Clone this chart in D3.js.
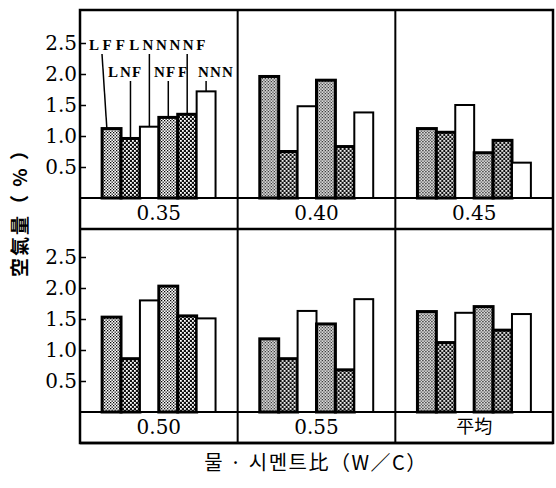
<!DOCTYPE html>
<html>
<head>
<meta charset="utf-8">
<script src="https://cdn.jsdelivr.net/npm/d3@7/dist/d3.min.js"></script>
<style>
  html, body { margin: 0; padding: 0; background: #fff; }
  svg { display: block; }
</style>
</head>
<body>
<script>
// Water-cement ratio groups (last panel is the average)
const wcRatios = ["0.35", "0.40", "0.45", "0.50", "0.55", "平均"];
// Mix series
const series = ["LFF", "LNF", "LNN", "NFF", "NNF", "NNN"];
// Air content (%) per series, one value per W/C panel
const LFF = [1.12, 1.96, 1.12, 1.53, 1.18, 1.62];
const LNF = [0.96, 0.75, 1.06, 0.86, 0.86, 1.12];
const LNN = [1.15, 1.48, 1.50, 1.80, 1.63, 1.60];
const NFF = [1.30, 1.90, 0.73, 2.03, 1.42, 1.70];
const NNF = [1.35, 0.83, 0.93, 1.55, 0.68, 1.32];
const NNN = [1.72, 1.38, 0.57, 1.51, 1.82, 1.58];
const yTicks = [0.5, 1.0, 1.5, 2.0, 2.5];
const yTitle = "空氣量（ % ）";
const xTitle = "물 · 시멘트比（W／C）";

const valuesBySeries = { LFF, LNF, LNN, NFF, NNF, NNN };
const fillOf = { LFF: "url(#light)", NFF: "url(#light)", LNF: "url(#dark)", NNF: "url(#dark)", LNN: "#fff", NNN: "#fff" };

const W = 556, H = 488;
const frameL = 80, frameR = 553;
const rows = [
  { top: 10, base: 198, strip: 229 },
  { top: 229, base: 412, strip: 443 }
];

const svg = d3.select("body").append("svg").attr("width", W).attr("height", H);

// fill patterns for the hatched bars
const defs = svg.append("defs");
const light = defs.append("pattern").attr("id", "light")
  .attr("width", 3).attr("height", 3).attr("patternUnits", "userSpaceOnUse");
light.append("rect").attr("width", 3).attr("height", 3).attr("fill", "#fff");
light.append("rect").attr("x", 0).attr("y", 0).attr("width", 1.3).attr("height", 1.3).attr("fill", "#000");
light.append("rect").attr("x", 1.5).attr("y", 1.5).attr("width", 1.3).attr("height", 1.3).attr("fill", "#000");

const dark = defs.append("pattern").attr("id", "dark")
  .attr("width", 4).attr("height", 4).attr("patternUnits", "userSpaceOnUse");
dark.append("rect").attr("width", 4).attr("height", 4).attr("fill", "#111");
dark.append("rect").attr("x", 0).attr("y", 0).attr("width", 1.8).attr("height", 1.8).attr("fill", "#fff");
dark.append("rect").attr("x", 2).attr("y", 2).attr("width", 1.8).attr("height", 1.8).attr("fill", "#fff");

const col = d3.scaleBand().domain([0, 1, 2]).range([frameL, frameR]);
const inner = d3.scaleBand().domain(series).range([0, col.bandwidth()]).paddingInner(0).paddingOuter(1.17);
const yScales = rows.map(r => d3.scaleLinear().domain([0, 2.5]).range([r.base, r.base - 155]));

const serif = "'DejaVu Serif', 'Liberation Serif', serif";
const cjk = "'Noto Sans CJK KR', 'Noto Sans CJK SC', sans-serif";

// bars
wcRatios.forEach((wc, i) => {
  const r = Math.floor(i / 3), c = i % 3;
  const y = yScales[r];
  const g = svg.append("g").attr("transform", `translate(${col(c)},0)`);
  const data = series.map(s => ({ s, v: valuesBySeries[s][i] }));
  g.selectAll("rect.bar").data(data).join("rect")
    .attr("class", "bar")
    .attr("x", d => inner(d.s))
    .attr("width", inner.bandwidth())
    .attr("y", d => y(d.v))
    .attr("height", d => y(0) - y(d.v))
    .attr("fill", d => fillOf[d.s])
    .attr("stroke", "#000")
    .attr("stroke-width", d => fillOf[d.s] === "#fff" ? 2 : 3);

  // strip label under the panel
  g.append("text")
    .attr("x", col.bandwidth() / 2)
    .attr("y", (rows[r].base + rows[r].strip) / 2 + 1)
    .attr("text-anchor", "middle")
    .attr("dominant-baseline", "middle")
    .attr("font-family", wc === "平均" ? cjk : serif)
    .attr("font-size", wc === "平均" ? 18 : 20)
    .text(wc);
});

// frame and grid lines
const grid = svg.append("g").attr("stroke", "#000").attr("fill", "none");
grid.append("rect").attr("x", frameL).attr("y", rows[0].top)
  .attr("width", frameR - frameL).attr("height", rows[1].strip - rows[0].top)
  .attr("stroke-width", 2.5);
[1, 2].forEach(c => grid.append("line")
  .attr("x1", col(c)).attr("x2", col(c))
  .attr("y1", rows[0].top).attr("y2", rows[1].strip).attr("stroke-width", 2));
rows.forEach(r => {
  grid.append("line").attr("x1", frameL).attr("x2", frameR)
    .attr("y1", r.base).attr("y2", r.base).attr("stroke-width", 2);
  grid.append("line").attr("x1", frameL).attr("x2", frameR)
    .attr("y1", r.strip).attr("y2", r.strip).attr("stroke-width", 2.5);
});

// y axes, ticks pointing into the panel
rows.forEach((r, k) => {
  const ax = svg.append("g").attr("transform", `translate(${frameL},0)`)
    .call(d3.axisLeft(yScales[k]).tickValues(yTicks).tickFormat(d3.format(".1f"))
      .tickSize(-6).tickPadding(3));
  ax.select(".domain").remove();
  ax.selectAll(".tick line").attr("stroke", "#000").attr("stroke-width", 1.5);
  ax.selectAll(".tick text")
    .attr("font-family", serif).attr("font-size", 20).attr("fill", "#000");
});

// series labels with leader lines in the first panel
const pitchTop = 13.4, pitchLow = 12;
const labelPos = {
  LFF: { x: 89, y: 50, pitch: pitchTop, lx: 102, ly: 54 },
  LNN: { x: 89 + 3 * pitchTop, y: 50, pitch: pitchTop, ly: 54 },
  NNF: { x: 89 + 6 * pitchTop, y: 50, pitch: pitchTop, ly: 54 },
  LNF: { x: 108, y: 77, pitch: pitchLow, ly: 81 },
  NFF: { x: 154, y: 77, pitch: pitchLow, ly: 81 },
  NNN: { x: 198, y: 77, pitch: pitchLow, ly: 81 }
};
const y0 = yScales[0], x0 = col(0);
series.forEach(s => {
  const p = labelPos[s];
  svg.append("text")
    .attr("x", s.split("").map((ch, j) => p.x + j * p.pitch).join(" "))
    .attr("y", p.y)
    .attr("font-family", "'Liberation Serif', serif")
    .attr("font-weight", "bold")
    .attr("font-size", 15)
    .text(s);
  const bx = x0 + inner(s) + inner.bandwidth() / 2;
  const endX = p.lx !== undefined ? x0 + inner(s) + inner.bandwidth() * 0.25 : bx;
  svg.append("line")
    .attr("x1", p.lx !== undefined ? p.lx : bx).attr("y1", p.ly)
    .attr("x2", endX).attr("y2", y0(valuesBySeries[s][0]))
    .attr("stroke", "#000").attr("stroke-width", 1.5);
});

// axis titles
svg.append("text")
  .attr("transform", "translate(22,208) rotate(-90)")
  .attr("text-anchor", "middle")
  .attr("dominant-baseline", "middle")
  .attr("font-family", cjk)
  .attr("font-weight", "bold")
  .attr("font-size", 19)
  .attr("letter-spacing", 2)
  .text(yTitle);

svg.append("text")
  .attr("x", 316).attr("y", 470)
  .attr("text-anchor", "middle")
  .attr("font-family", cjk)
  .attr("font-size", 20)
  .attr("letter-spacing", 1.5)
  .text(xTitle);
</script>
</body>
</html>
